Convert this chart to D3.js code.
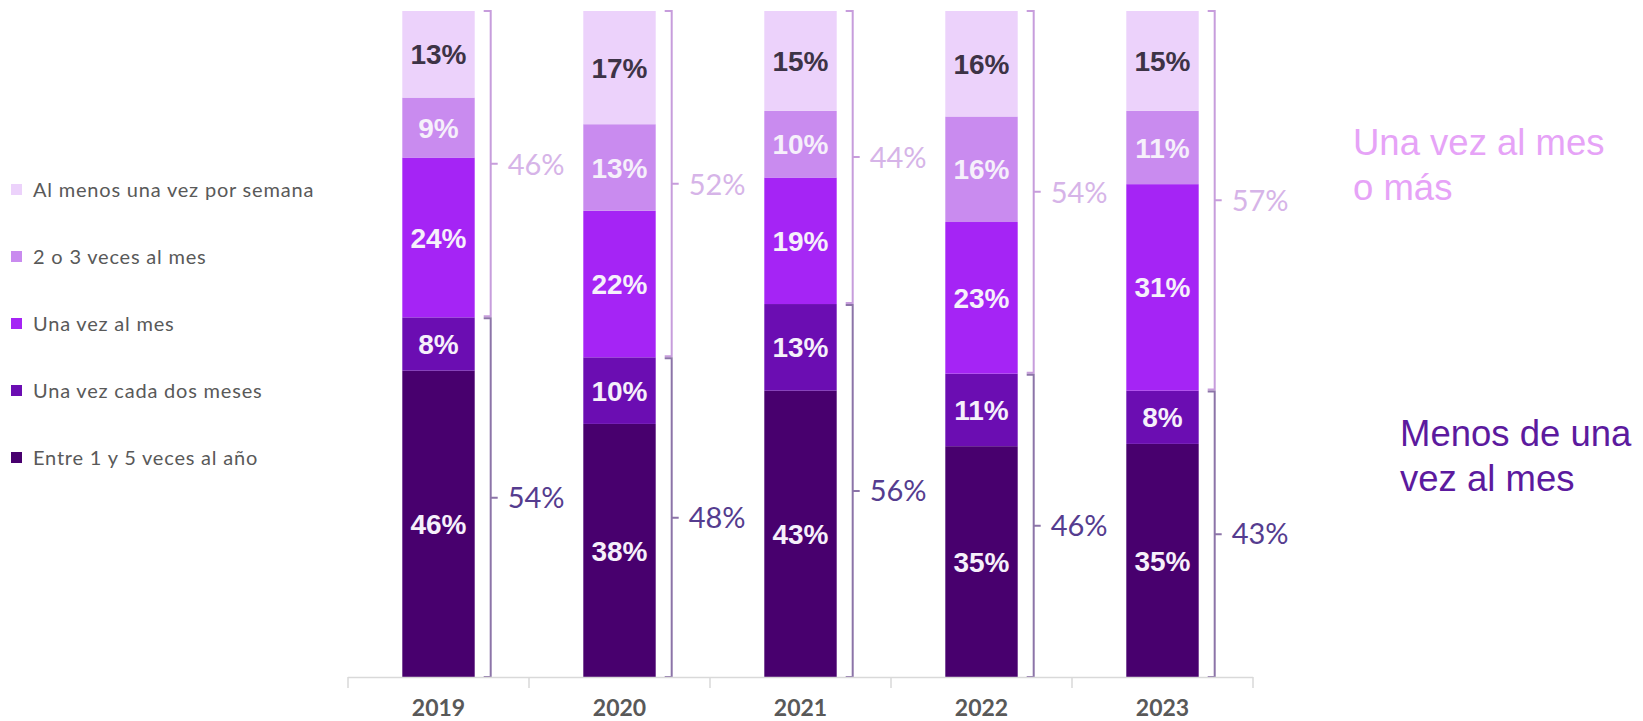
<!DOCTYPE html>
<html>
<head>
<meta charset="utf-8">
<script src="https://cdnjs.cloudflare.com/ajax/libs/d3/7.8.5/d3.min.js"></script>
<style>
  body { margin: 0; background: #fff; }
  svg { display: block; }
</style>
</head>
<body>
<svg width="1643" height="721"></svg>
<script>
// datos (porcentajes por año)
var years = ["2019", "2020", "2021", "2022", "2023"];
var categories = ["Al menos una vez por semana", "2 o 3 veces al mes", "Una vez al mes", "Una vez cada dos meses", "Entre 1 y 5 veces al año"];
var semanal = [13, 17, 15, 16, 15];
var dosTres = [9, 13, 10, 16, 11];
var unaVez = [24, 22, 19, 23, 31];
var cadaDos = [8, 10, 13, 11, 8];
var entre1y5 = [46, 38, 43, 35, 35];
var masDeUna = [46, 52, 44, 54, 57];     // una vez al mes o más
var menosDeUna = [54, 48, 56, 46, 43];   // menos de una vez al mes

var colors = ["#ecd2fb", "#c98bef", "#a524f5", "#6b0db2", "#48006e"];

var svg = d3.select("svg"),
    axisY = 677,
    topY = 11;

var rows = years.map(function(y, i) {
    return {
        year: y,
        c0: semanal[i],
        c1: dosTres[i],
        c2: unaVez[i],
        c3: cadaDos[i],
        c4: entre1y5[i],
        top: masDeUna[i],
        bottom: menosDeUna[i]
    };
});

// stacking from the bottom: c4 (Entre 1 y 5) up to c0 (semanal)
var keys = ["c4", "c3", "c2", "c1", "c0"];
var stack = d3.stack().keys(keys).offset(d3.stackOffsetExpand);
var series = stack(rows);

var x = d3.scaleBand()
    .domain(years)
    .range([348, 1253])
    .paddingInner(0.6)
    .paddingOuter(0.3);

var y = d3.scaleLinear().domain([0, 1]).range([axisY, topY]);

var color = d3.scaleOrdinal().domain(["c0", "c1", "c2", "c3", "c4"]).range(colors);

// barras
var layer = svg.selectAll(".layer")
    .data(series)
    .enter().append("g")
    .attr("class", "layer")
    .attr("fill", function(d) { return color(d.key); });

layer.selectAll("rect")
    .data(function(d) { return d; })
    .enter().append("rect")
    .attr("x", function(d) { return x(d.data.year); })
    .attr("width", x.bandwidth())
    .attr("y", function(d) { return y(d[1]); })
    .attr("height", function(d) { return y(d[0]) - y(d[1]); });

// etiquetas dentro de las barras
series.forEach(function(s) {
    svg.selectAll(".lbl-" + s.key)
        .data(s)
        .enter().append("text")
        .attr("x", function(d) { return x(d.data.year) + x.bandwidth() / 2; })
        .attr("y", function(d) { return (y(d[0]) + y(d[1])) / 2; })
        .attr("dy", "0.36em")
        .attr("text-anchor", "middle")
        .style("font-family", "'Liberation Sans', Arial, sans-serif")
        .style("font-weight", "bold")
        .style("font-size", "28px")
        .style("fill", s.key == "c0" ? "#3d3346" : "#f6f0fb")
        .text(function(d) { return d.data[s.key] + "%"; });
});

// llaves a la derecha de cada barra
var split = series[1]; // top of "Una vez cada dos meses"

var brackets = rows.map(function(r, i) {
    return {
        bx: x(r.year) + x.bandwidth() + 16,
        yTop: y(1),
        ySplit: y(split[i][1]),
        yBottom: y(0),
        top: r.top,
        bottom: r.bottom
    };
});

function brace(bx, y0, y1) {
    var ym = (y0 + y1) / 2;
    return "M" + (bx - 7) + "," + y0 + "L" + bx + "," + y0 + "L" + bx + "," + y1 + "L" + (bx - 7) + "," + y1 +
        "M" + bx + "," + ym + "L" + (bx + 7) + "," + ym;
}

svg.selectAll(".brace-top")
    .data(brackets)
    .enter().append("path")
    .attr("d", function(d) { return brace(d.bx, d.yTop, d.ySplit - 1); })
    .attr("fill", "none")
    .attr("stroke", "#c79ddc")
    .attr("stroke-width", 2);

svg.selectAll(".brace-bottom")
    .data(brackets)
    .enter().append("path")
    .attr("d", function(d) { return brace(d.bx, d.ySplit + 1, d.yBottom); })
    .attr("fill", "none")
    .attr("stroke", "#8c74a8")
    .attr("stroke-width", 2);

svg.selectAll(".brace-top-lbl")
    .data(brackets)
    .enter().append("text")
    .attr("x", function(d) { return d.bx + 17; })
    .attr("y", function(d) { return (d.yTop + d.ySplit) / 2; })
    .attr("dy", "0.36em")
    .style("font-family", "Lato, sans-serif")
    .style("font-size", "29px")
    .style("fill", "#d6b4e8")
    .text(function(d) { return d.top + "%"; });

svg.selectAll(".brace-bottom-lbl")
    .data(brackets)
    .enter().append("text")
    .attr("x", function(d) { return d.bx + 17; })
    .attr("y", function(d) { return (d.ySplit + d.yBottom) / 2; })
    .attr("dy", "0.36em")
    .style("font-family", "Lato, sans-serif")
    .style("font-size", "29px")
    .style("fill", "#553c8f")
    .text(function(d) { return d.bottom + "%"; });

// eje x (estilo Excel: marcas entre categorías)
var step = x.step();
var edges = years.map(function(d) { return x(d) - (step - x.bandwidth()) / 2; });
edges.push(edges[edges.length - 1] + step);

svg.append("line")
    .attr("x1", edges[0])
    .attr("x2", edges[edges.length - 1])
    .attr("y1", axisY + 0.5)
    .attr("y2", axisY + 0.5)
    .attr("stroke", "#d9d9d9")
    .attr("stroke-width", 1.5);

svg.selectAll(".tick-edge")
    .data(edges)
    .enter().append("line")
    .attr("x1", function(d) { return d; })
    .attr("x2", function(d) { return d; })
    .attr("y1", axisY)
    .attr("y2", axisY + 11)
    .attr("stroke", "#d9d9d9")
    .attr("stroke-width", 1.5);

svg.selectAll(".year")
    .data(years)
    .enter().append("text")
    .attr("x", function(d) { return x(d) + x.bandwidth() / 2; })
    .attr("y", 716)
    .attr("text-anchor", "middle")
    .style("font-family", "Lato, sans-serif")
    .style("font-weight", "bold")
    .style("font-size", "23px")
    .style("fill", "#595959")
    .text(function(d) { return d; });

// leyenda
var legend = svg.selectAll(".legend")
    .data(categories)
    .enter().append("g")
    .attr("class", "legend")
    .attr("transform", function(d, i) { return "translate(11," + (190 + i * 67) + ")"; });

legend.append("rect")
    .attr("x", 0)
    .attr("y", -6)
    .attr("width", 11)
    .attr("height", 11)
    .attr("fill", function(d, i) { return colors[i]; });

legend.append("text")
    .attr("x", 22)
    .attr("dy", "0.36em")
    .style("font-family", "Lato, sans-serif")
    .style("font-size", "20px")
    .style("letter-spacing", "0.8px")
    .style("fill", "#595959")
    .text(function(d) { return d; });

// notas a la derecha
var notes = [
    { lines: ["Una vez al mes", "o más"], x: 1353, y: 155, color: "#e6a3f7" },
    { lines: ["Menos de una", "vez al mes"], x: 1400, y: 446, color: "#5c1a9e" }
];

notes.forEach(function(n) {
    svg.selectAll(null)
        .data(n.lines)
        .enter().append("text")
        .attr("x", n.x)
        .attr("y", function(d, i) { return n.y + i * 45; })
        .style("font-family", "'Liberation Sans', Arial, sans-serif")
        .style("font-size", "36.5px")
        .style("fill", n.color)
        .text(function(d) { return d; });
});
</script>
</body>
</html>
